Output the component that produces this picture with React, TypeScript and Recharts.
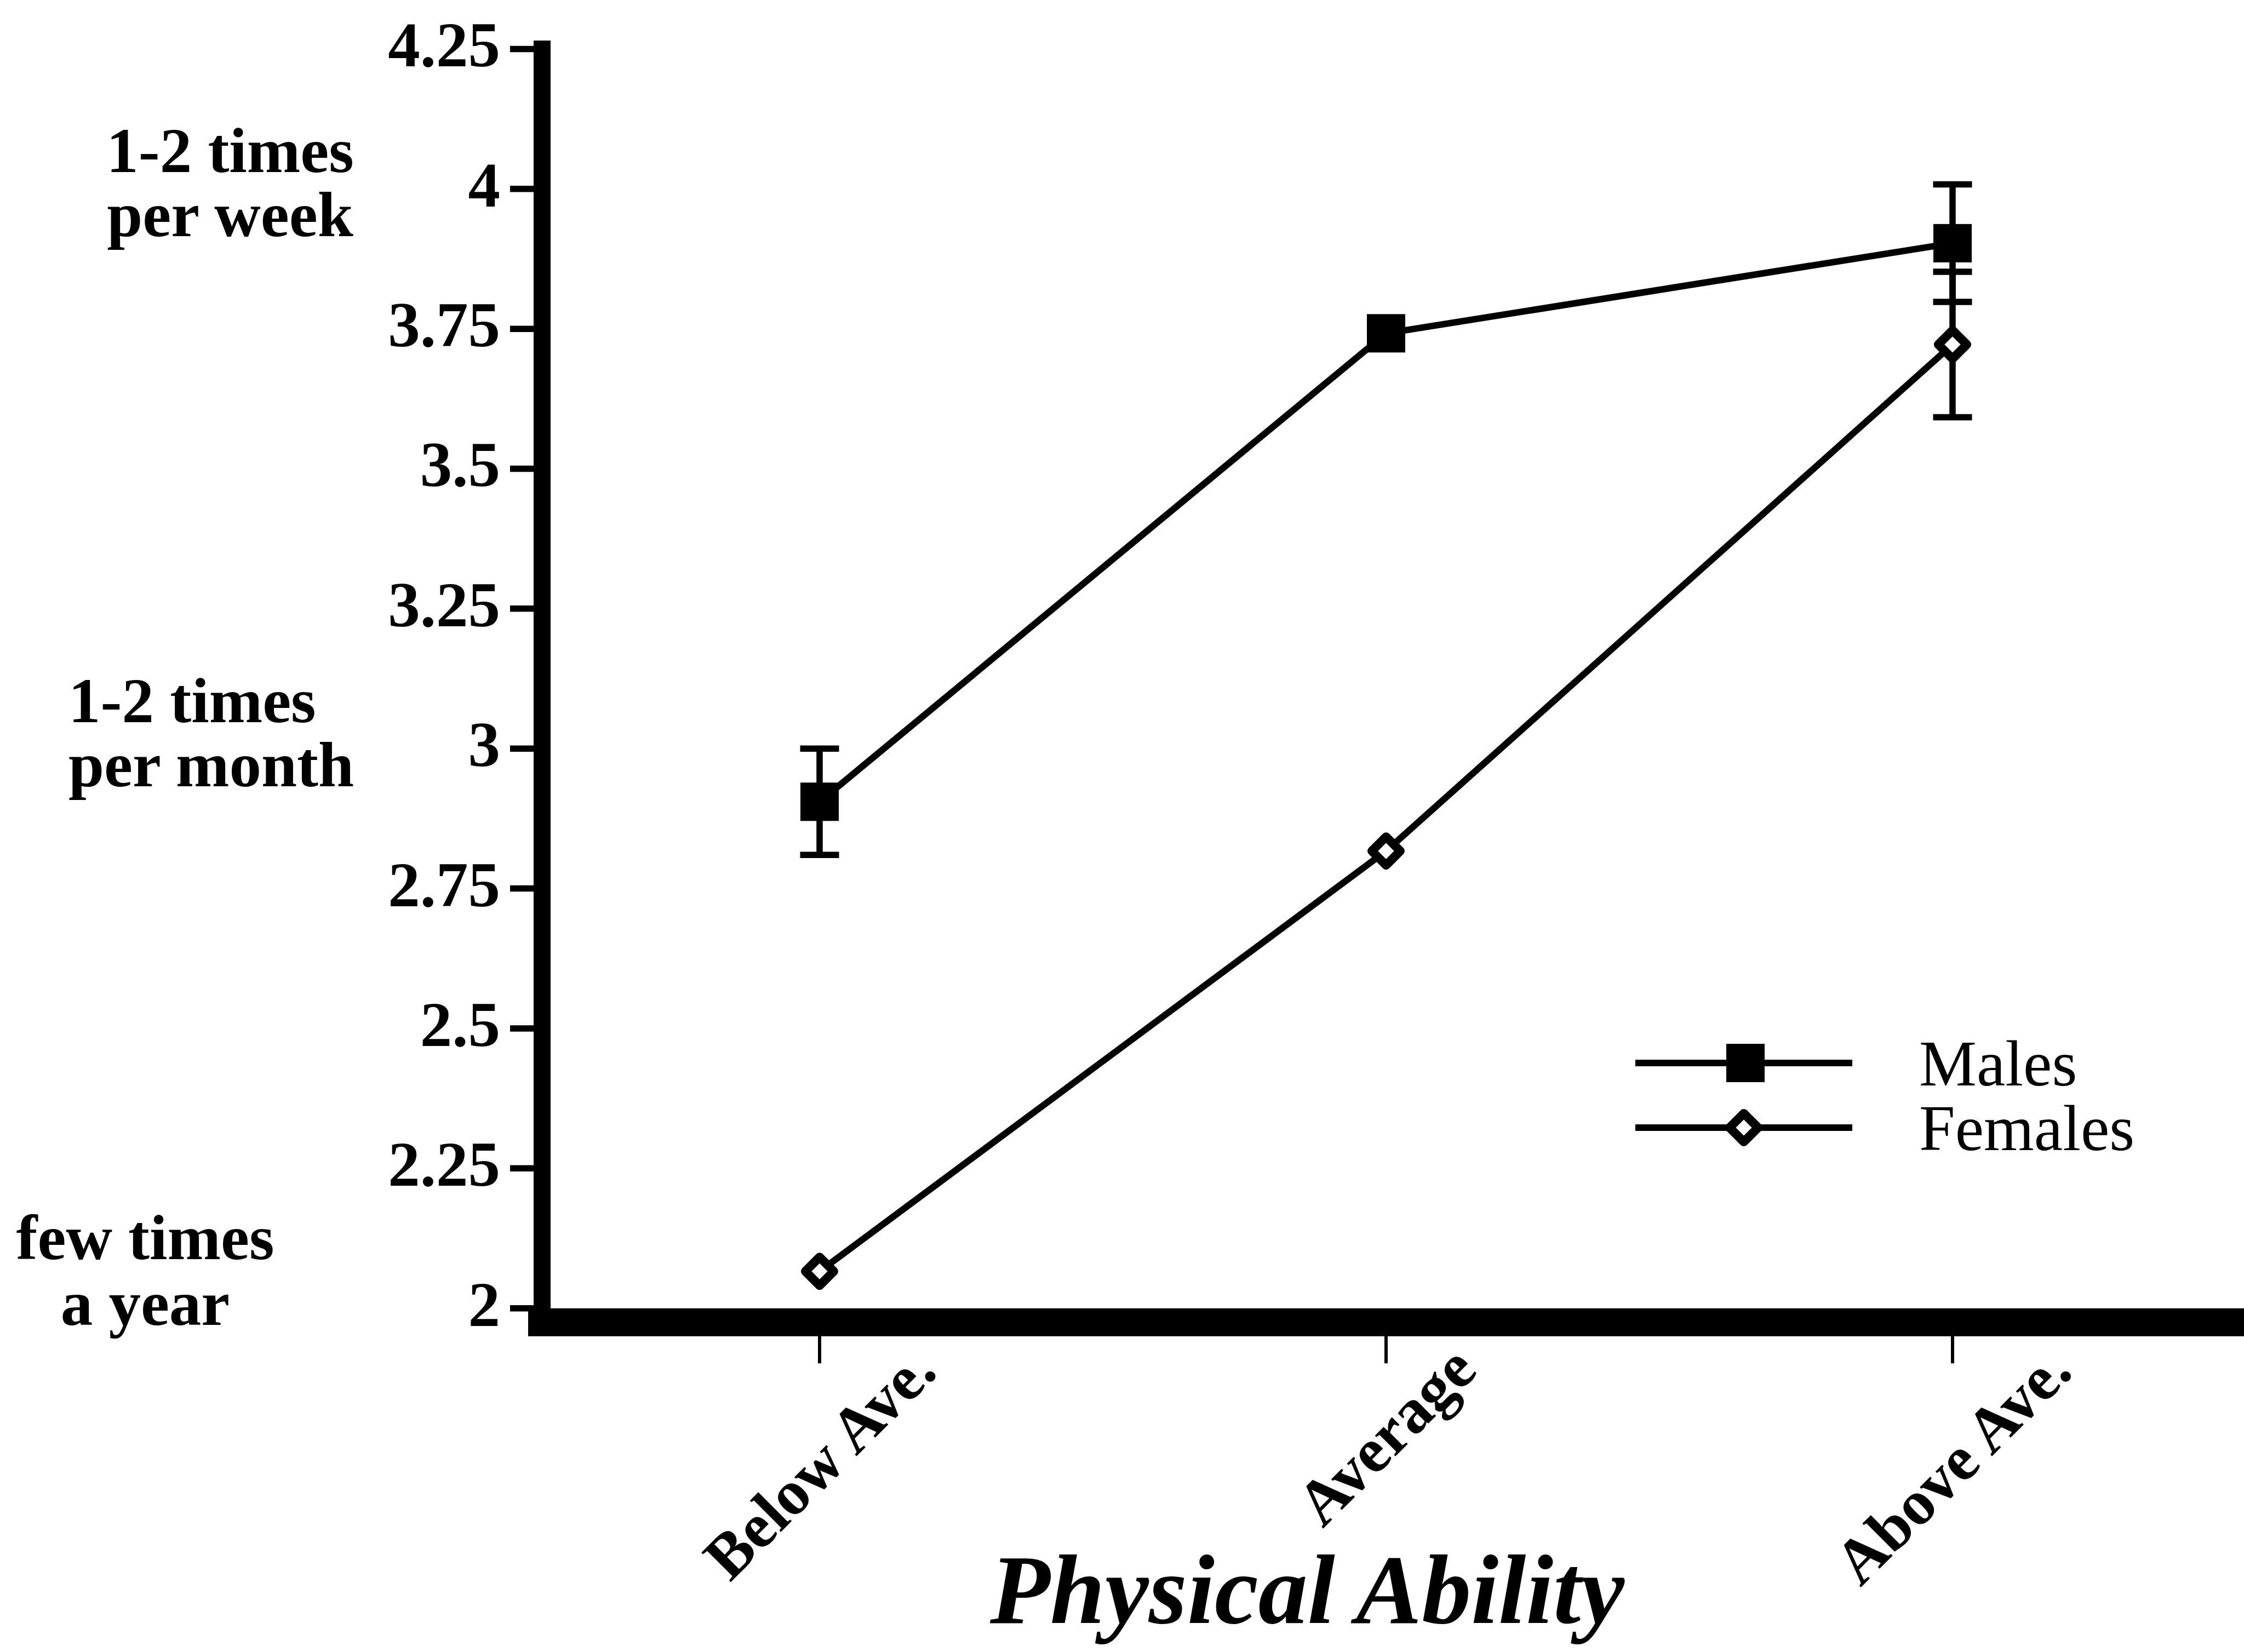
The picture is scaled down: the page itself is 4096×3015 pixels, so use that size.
import React from "react";
import { LineChart, Line, XAxis, YAxis, ErrorBar, Legend } from "recharts";

// values
const categories = ["Below Ave.", "Average", "Above Ave."];
const malesMean = [2.905, 3.742, 3.903];
const malesErr = [0.095, null, 0.105];
const femalesMean = [2.066, 2.817, 3.722];
const femalesErr = [null, null, 0.13];
const yTicks = [2, 2.25, 2.5, 2.75, 3, 3.25, 3.5, 3.75, 4, 4.25];
const frequencyLabels = [
  { at: 4, lines: ["1-2 times", "per week"] },
  { at: 3, lines: ["1-2 times", "per month"] },
  { at: 2, lines: ["few times", "a year"] },
];
const seriesOrder = ["males", "females"];
const xTitle = "Physical Ability";

const data = categories.map((name, i) => ({
  name,
  males: malesMean[i],
  malesErr: malesErr[i],
  females: femalesMean[i],
  femalesErr: femalesErr[i],
}));

const SERIF = '"Liberation Serif", "Times New Roman", serif';
const X_FONT = 116;

// where the frequency notes sit, relative to their tick
const notePos: Record<number, { x: number; anchor: "start" | "middle"; dy: number[] }> = {
  4: { x: 420, anchor: "middle", dy: [-31, 86] },
  3: { x: 125, anchor: "start", dy: [-48, 69] },
  2: { x: 265, anchor: "middle", dy: [-90, 30] },
};

let ctx: CanvasRenderingContext2D | null = null;
function textWidth(s: string, font: string) {
  if (!ctx) ctx = document.createElement("canvas").getContext("2d");
  if (!ctx) return s.length * 0.5 * X_FONT;
  ctx.font = font;
  return ctx.measureText(s).width;
}

function YTick({ x, y, payload }: any) {
  const note = frequencyLabels.find((n) => n.at === payload.value);
  const pos = note ? notePos[note.at] : null;
  return (
    <g>
      <text x={x} y={y} dy={32} textAnchor="end" fontFamily={SERIF} fontWeight="bold" fontSize={117} fill="#000">
        {payload.value}
      </text>
      {note &&
        pos &&
        note.lines.map((line, i) => (
          <text
            key={line + i}
            x={pos.x}
            y={y + pos.dy[i]}
            textAnchor={pos.anchor}
            fontFamily={SERIF}
            fontWeight="bold"
            fontSize={117}
            fill="#000"
          >
            {line}
          </text>
        ))}
    </g>
  );
}

function XTick({ x, y, payload }: any) {
  const label = String(payload.value);
  const L = textWidth(label, `bold ${X_FONT}px "Liberation Serif"`);
  const top = y - 24;
  const cx = x + 0.234 * X_FONT;
  const cy = top + (L / 2 + 0.5 * X_FONT) * 0.7071;
  return (
    <text
      x={cx}
      y={cy}
      textAnchor="middle"
      transform={`rotate(-45, ${cx}, ${cy})`}
      fontFamily={SERIF}
      fontWeight="bold"
      fontSize={X_FONT}
      fill="#000"
    >
      {label}
    </text>
  );
}

function SquareDot({ cx, cy }: { cx?: number; cy?: number }) {
  if (cx == null || cy == null) return null;
  return <rect x={cx - 35} y={cy - 35} width={70} height={70} fill="#000" />;
}

function DiamondDot({ cx, cy }: { cx?: number; cy?: number }) {
  if (cx == null || cy == null) return null;
  const r = 26;
  return (
    <path
      d={`M${cx},${cy - r}L${cx + r},${cy}L${cx},${cy + r}L${cx - r},${cy}Z`}
      fill="#fff"
      stroke="#000"
      strokeWidth={16}
      strokeLinejoin="round"
    />
  );
}

function LegendBox({ payload }: any) {
  const items = [...(payload || [])].sort(
    (a: any, b: any) => seriesOrder.indexOf(a.dataKey) - seriesOrder.indexOf(b.dataKey)
  );
  return (
    <svg width={1130} height={300} style={{ overflow: "visible", display: "block" }}>
      {items.map((entry: any, i: number) => {
        const ly = 60 + 118 * i;
        return (
          <g key={entry.value}>
            <line x1={25} x2={421} y1={ly} y2={ly} stroke="#000" strokeWidth={12} />
            {entry.dataKey === "males" ? <SquareDot cx={226} cy={ly} /> : <DiamondDot cx={223} cy={ly} />}
            <text x={543} y={ly + 41} fontFamily={SERIF} fontSize={118} fill="#000">
              {entry.value}
            </text>
          </g>
        );
      })}
    </svg>
  );
}

function AxisTitle(props: any) {
  const vb = props.viewBox || { x: 989.5, y: 2413.2 };
  return (
    <text
      x={vb.x + 1396.5}
      y={vb.y + 549}
      textAnchor="middle"
      fontFamily={SERIF}
      fontWeight="bold"
      fontStyle="italic"
      fontSize={180}
      fill="#000"
    >
      {xTitle}
    </text>
  );
}

export default function App() {
  return (
    <div style={{ position: "absolute", left: 0, top: 0, width: 4096, height: 3015, background: "#fff" }}>
      <LineChart width={4096} height={3015} data={data} margin={{ top: 89.4, right: 0, bottom: 0, left: 0 }}>
        <XAxis
          dataKey="name"
          height={601.8}
          padding={{ left: 506.5, right: 532 }}
          interval={0}
          tickSize={75}
          tickMargin={0}
          tickLine={{ stroke: "#000", strokeWidth: 6 }}
          axisLine={{ stroke: "#000", strokeWidth: 51, strokeLinecap: "square" }}
          tick={<XTick />}
          label={(p: any) => <AxisTitle {...p} />}
        />
        <YAxis
          type="number"
          domain={[1.975, 4.25]}
          ticks={yTicks}
          interval={0}
          allowDataOverflow
          width={989.5}
          tickSize={58.5}
          tickMargin={18}
          tickLine={{ stroke: "#000", strokeWidth: 11.5 }}
          axisLine={{ stroke: "#000", strokeWidth: 31, strokeLinecap: "square" }}
          tick={<YTick />}
        />
        <Line
          dataKey="males"
          name="Males"
          stroke="#000"
          strokeWidth={12}
          dot={(p: any) => <SquareDot key={`m${p.index}`} cx={p.cx} cy={p.cy} />}
          activeDot={false}
          isAnimationActive={false}
        >
          <ErrorBar dataKey="malesErr" direction="y" width={35.5} stroke="#000" strokeWidth={11.5} />
        </Line>
        <Line
          dataKey="females"
          name="Females"
          stroke="#000"
          strokeWidth={12}
          dot={(p: any) => <DiamondDot key={`f${p.index}`} cx={p.cx} cy={p.cy} />}
          activeDot={false}
          isAnimationActive={false}
        >
          <ErrorBar dataKey="femalesErr" direction="y" width={35.5} stroke="#000" strokeWidth={11.5} />
        </Line>
        <Legend
          layout="horizontal"
          verticalAlign="middle"
          align="center"
          wrapperStyle={{ position: "absolute", left: 2960, top: 1880, width: 1130, height: 300 }}
          content={<LegendBox />}
        />
      </LineChart>
    </div>
  );
}
